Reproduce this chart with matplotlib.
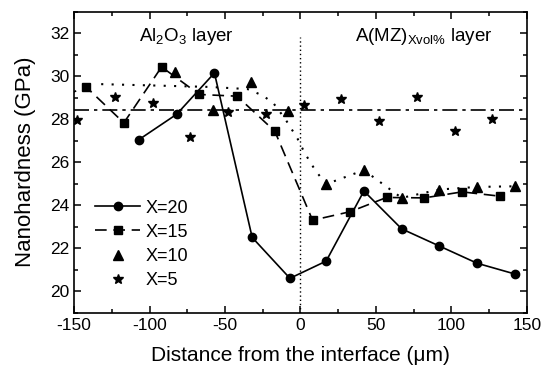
import matplotlib
matplotlib.use("Agg")
from matplotlib import pyplot as plt
from matplotlib.ticker import MultipleLocator

plt.rcParams.update({
    "font.family": ["Liberation Sans", "DejaVu Sans"],
    "font.size": 12,
    "axes.unicode_minus": False,
    "mathtext.fontset": "custom",
    "mathtext.rm": "Liberation Sans",
    "mathtext.it": "Liberation Sans",
})

# X=20 (circles, solid)
x20 = [-107, -82, -57, -32, -7, 17, 42, 67, 92, 117, 142]
h20 = [27.05, 28.23, 30.15, 22.5, 20.6, 21.4, 24.66, 22.9, 22.1, 21.3, 20.8]

# X=15 (squares, dashed)
x15 = [-167, -142, -117, -92, -67, -42, -17, 8, 33, 57, 82, 107, 132]
h15 = [28.8, 29.5, 27.83, 30.43, 29.15, 29.07, 27.44, 23.3, 23.7, 24.36, 24.34, 24.62, 24.42]

# X=10 (triangles) and its dotted trend
x10 = [-83, -58, -33, -8, 17, 42, 67, 92, 117, 142]
h10 = [30.2, 28.45, 29.74, 28.39, 24.98, 25.63, 24.34, 24.73, 24.85, 24.88]
x10_trend = [-132, -60, -35, -25, -18, -10, -2, 3, 10, 17, 42, 67, 92, 117, 142]
h10_trend = [29.63, 29.5, 29.4, 29.1, 28.75, 28.0, 27.1, 26.4, 25.6, 24.98, 25.63, 24.34, 24.73, 24.85, 24.88]

# X=5 (stars)
x5 = [-148, -123, -98, -73, -48, -23, 2, 27, 52, 77, 102, 127]
h5 = [27.95, 29.04, 28.76, 27.15, 28.34, 28.23, 28.65, 28.93, 27.9, 29.04, 27.44, 28.03]

ref_level = 28.45
interface_x = 0
interface_top = 31.8

fig = plt.figure(figsize=(5.43, 3.71), dpi=100)
ax = fig.add_axes([0.1363, 0.1571, 0.8342, 0.8114])

ax.plot(x20, h20, "-", color="k", marker="o", markersize=6, linewidth=1.2, label="X=20")
ax.plot(x15, h15, color="k", marker="s", markersize=6, linewidth=1.2,
        linestyle=(0, (7, 4)), label="X=15")
ax.plot(x10, h10, linestyle="none", color="k", marker="^", markersize=7, label="X=10")
ax.plot(x10_trend, h10_trend, color="k", linestyle=(0, (1, 4)), linewidth=1.5)
ax.plot(x5, h5, linestyle="none", color="k", marker="*", markersize=7.5, label="X=5")

ax.axhline(ref_level, color="k", linewidth=1.2, linestyle=(0, (9, 3, 2, 3)))
ax.plot([interface_x, interface_x], [19, interface_top], color="k",
        linestyle=(0, (1, 2)), linewidth=1.0)

ax.text(-107, 31.85, "Al$_2$O$_3$ layer", fontsize=13.5, va="center")
ax.text(36, 31.85, "A(MZ)$_{\\mathregular{Xvol\\%}}$ layer", fontsize=13.5, va="center")

ax.set_xlim(-150, 150)
ax.set_ylim(19, 33)
ax.xaxis.set_major_locator(MultipleLocator(50))
ax.xaxis.set_minor_locator(MultipleLocator(25))
ax.yaxis.set_major_locator(MultipleLocator(2))
ax.yaxis.set_minor_locator(MultipleLocator(1))
ax.tick_params(which="both", direction="in", top=True, right=True, width=1.1)
ax.tick_params(which="major", length=5, labelsize=12.5)
ax.tick_params(which="minor", length=3)
for s in ax.spines.values():
    s.set_linewidth(1.2)

ax.set_xlabel("Distance from the interface (\u03bcm)", fontsize=15, labelpad=10)
ax.set_ylabel("Nanohardness (GPa)", fontsize=16, labelpad=10)

ax.legend(loc="upper left", bbox_to_anchor=(0.031, 0.40), frameon=False,
          fontsize=13, handlelength=2.5, handletextpad=0.3, labelspacing=0.4,
          borderaxespad=0)

fig.savefig("out.png", dpi=100)
